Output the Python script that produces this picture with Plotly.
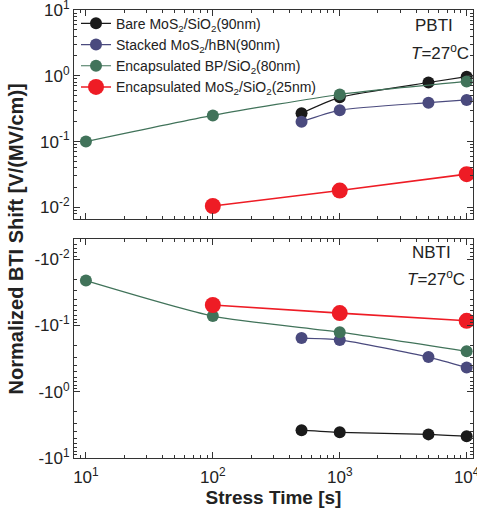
import plotly.graph_objects as go

# ---------------- data ----------------
series_names = [
    "Bare MoS<sub>2</sub>/SiO<sub>2</sub>(90nm)",
    "Stacked MoS<sub>2</sub>/hBN(90nm)",
    "Encapsulated BP/SiO<sub>2</sub>(80nm)",
    "Encapsulated MoS<sub>2</sub>/SiO<sub>2</sub>(25nm)",
]
colors = ["#1a1a1a", "#4a4a7e", "#41735a", "#ee1c25"]

# PBTI (positive shift)
pbti_bare_t = [500, 1000, 5000, 10000]
pbti_bare_v = [0.27, 0.47, 0.79, 0.97]
pbti_stack_t = [500, 1000, 5000, 10000]
pbti_stack_v = [0.20, 0.30, 0.39, 0.43]
pbti_bp_t = [10, 100, 1000, 10000]
pbti_bp_v = [0.10, 0.25, 0.52, 0.82]
pbti_enc_t = [100, 1000, 10000]
pbti_enc_v = [0.0105, 0.018, 0.032]

# NBTI (negative shift, magnitudes)
nbti_bare_t = [500, 1000, 5000, 10000]
nbti_bare_v = [3.8, 4.1, 4.4, 4.7]
nbti_stack_t = [500, 1000, 5000, 10000]
nbti_stack_v = [0.155, 0.165, 0.30, 0.43]
nbti_bp_t = [10, 100, 1000, 10000]
nbti_bp_v = [0.021, 0.072, 0.126, 0.245]
nbti_enc_t = [100, 1000, 10000]
nbti_enc_v = [0.049, 0.065, 0.085]

x_tickvals = [10, 100, 1000, 10000]
x_ticktext = ["10<sup>1</sup>", "10<sup>2</sup>", "10<sup>3</sup>", "10<sup>4</sup>"]
y_tickvals = [0.01, 0.1, 1, 10]
top_ticktext = ["10<sup>-2</sup>", "10<sup>-1</sup>", "10<sup>0</sup>", "10<sup>1</sup>"]
bot_ticktext = ["-10<sup>-2</sup>", "-10<sup>-1</sup>", "-10<sup>0</sup>", "-10<sup>1</sup>"]

minor_vals = [m * 10 ** k for k in range(-3, 5) for m in range(2, 10)]

fig = go.Figure()

top = [(pbti_bare_t, pbti_bare_v), (pbti_stack_t, pbti_stack_v),
       (pbti_bp_t, pbti_bp_v), (pbti_enc_t, pbti_enc_v)]
bot = [(nbti_bare_t, nbti_bare_v), (nbti_stack_t, nbti_stack_v),
       (nbti_bp_t, nbti_bp_v), (nbti_enc_t, nbti_enc_v)]
msizes = [12, 12, 12, 16]
lwidths = [1.2, 1.2, 1.2, 1.6]

for i, (t, v) in enumerate(top):
    fig.add_trace(go.Scatter(
        x=t, y=v, mode="lines+markers", name=series_names[i],
        line=dict(color=colors[i], width=lwidths[i], shape="spline", smoothing=0.6),
        marker=dict(color=colors[i], size=msizes[i]),
        xaxis="x2", yaxis="y2", legendrank=i + 1,
    ))
for i, (t, v) in enumerate(bot):
    fig.add_trace(go.Scatter(
        x=t, y=v, mode="lines+markers", name=series_names[i], showlegend=False,
        line=dict(color=colors[i], width=lwidths[i], shape="spline", smoothing=0.6),
        marker=dict(color=colors[i], size=msizes[i]),
        xaxis="x", yaxis="y",
    ))

axis_common = dict(
    type="log", showline=True, linecolor="#333", linewidth=1, mirror="allticks",
    ticks="inside", ticklen=6, tickcolor="#333", showgrid=False, zeroline=False,
    automargin=False, ticklabeloverflow="allow",
    tickfont=dict(size=17, color="#222", family="Liberation Sans, Arial"),
    minor=dict(ticks="inside", ticklen=3, tickcolor="#333", tickvals=minor_vals, showgrid=False),
)

xrange = [0.906, 4.05]
fig.update_layout(
    width=477, height=508,
    margin=dict(l=74, r=4, t=10, b=50),
    paper_bgcolor="white", plot_bgcolor="white",
    font=dict(family="Liberation Sans, Arial", color="#222"),
    xaxis=dict(axis_common, range=xrange, tickvals=x_tickvals, ticktext=x_ticktext,
               anchor="y", domain=[0, 1], ticklabelstandoff=4,
               title=dict(text="<b>Stress Time [s]</b>", font=dict(size=19, color="#222"), standoff=0)),
    yaxis=dict(axis_common, range=[1.0, -2.30], tickvals=y_tickvals, ticktext=bot_ticktext,
               domain=[0, 0.488], anchor="x"),
    xaxis2=dict(axis_common, range=xrange, tickvals=x_tickvals, showticklabels=False,
                anchor="y2", domain=[0, 1], matches="x"),
    yaxis2=dict(axis_common, range=[-2.17, 1.0], tickvals=y_tickvals, ticktext=top_ticktext,
                domain=[0.5345, 1], anchor="x2"),
    legend=dict(x=0.005, y=1.005, xanchor="left", yanchor="top", bgcolor="rgba(0,0,0,0)",
                font=dict(size=14, color="#222"), tracegroupgap=0, itemwidth=30),
    showlegend=True,
)

annots = [
    dict(text="PBTI", x=0.955, y=0.99, xanchor="right", yanchor="top"),
    dict(text="<i>T</i>=27<sup>o</sup>C", x=0.995, y=0.935, xanchor="right", yanchor="top"),
    dict(text="NBTI", x=0.95, y=0.485, xanchor="right", yanchor="top"),
    dict(text="<i>T</i>=27<sup>o</sup>C", x=0.985, y=0.43, xanchor="right", yanchor="top"),
]
for a in annots:
    fig.add_annotation(text=a["text"], x=a["x"], y=a["y"], xref="paper", yref="paper",
                       xanchor=a["xanchor"], yanchor=a["yanchor"], showarrow=False,
                       font=dict(size=17, color="#222"))

fig.add_annotation(text="<b>Normalized BTI Shift [V/(MV/cm)]</b>", x=-0.143, y=0.49,
                   xref="paper", yref="paper", textangle=-90, showarrow=False,
                   xanchor="center", yanchor="middle", font=dict(size=20, color="#222"))

fig.write_html("out.html", config={"displayModeBar": False},
               post_script="document.body.style.margin='0';")
